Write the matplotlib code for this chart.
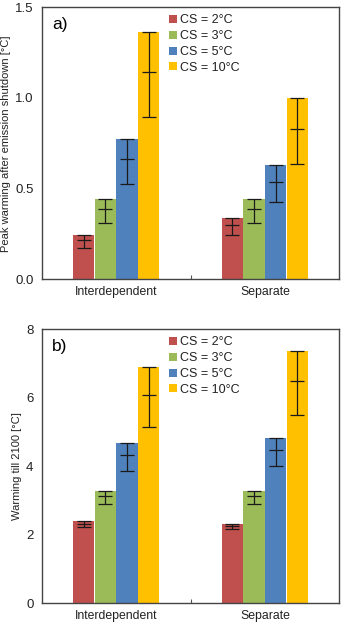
import matplotlib
matplotlib.use('Agg')
import matplotlib.pyplot as plt
import numpy as np

plt.rcParams['font.family'] = ['Liberation Sans', 'DejaVu Sans']

# ------------------ DATA ------------------ #
categories = ['Interdependent', 'Separate']
series = ['CS = 2°C', 'CS = 3°C', 'CS = 5°C', 'CS = 10°C']
colors = ['#C0504D', '#9BBB59', '#4F81BD', '#FFC000']

# panel a: peak warming after emission shutdown
a_top = [[0.243, 0.338], [0.445, 0.445], [0.776, 0.629], [1.366, 1.002]]
a_mean = [[0.214, 0.298], [0.386, 0.386], [0.662, 0.537], [1.141, 0.829]]
a_low = [[0.171, 0.243], [0.313, 0.313], [0.526, 0.425], [0.895, 0.634]]

# panel b: warming till 2100
b_top = [[2.39, 2.33], [3.28, 3.28], [4.69, 4.84], [6.90, 7.38]]
b_mean = [[2.31, 2.26], [3.13, 3.13], [4.33, 4.47], [6.08, 6.50]]
b_low = [[2.22, 2.16], [2.90, 2.90], [3.85, 4.00], [5.15, 5.50]]


def panel(ax, top, mean, low, ylim, yticks, yticklabels, ylabel, tag):
    x = np.array([0.5, 1.5])
    w = 0.142
    for i in range(4):
        xs = x + (i - 1.5) * (w + 0.004)
        t = np.array(top[i])
        m = np.array(mean[i])
        lo = np.array(low[i])
        ax.bar(xs, t, width=w, color=colors[i], label=series[i], zorder=2)
        ax.errorbar(xs, m, yerr=[m - lo, t - m], fmt='none', ecolor='#1a1a1a',
                    elinewidth=0.9, capsize=4.7, capthick=0.9, zorder=3)
        ax.plot(xs, m, linestyle='none', marker='_', markersize=9.5,
                markeredgewidth=0.9, color='#1a1a1a', zorder=3)
    ax.set_xlim(0, 2)
    ax.set_ylim(*ylim)
    ax.set_yticks(yticks)
    ax.set_yticklabels(yticklabels, fontsize=9.5, color='#222222')
    ax.tick_params(axis='y', length=0, pad=6)
    ax.set_xticks([1.0])
    ax.set_xticklabels([''])
    ax.tick_params(axis='x', direction='in', length=3, color='#555555')
    for xc, c in zip(x, categories):
        ax.text(xc, -0.025, c, transform=ax.get_xaxis_transform(),
                ha='center', va='top', fontsize=8.8, color='#222222')
    ax.set_ylabel(ylabel, fontsize=8, color='#222222', labelpad=3)
    for s in ax.spines.values():
        s.set_color('#444444')
        s.set_linewidth(1.0)
    ax.text(0.035, 0.965, tag, transform=ax.transAxes, fontsize=12.5,
            ha='left', va='top')
    leg = ax.legend(loc='upper left', bbox_to_anchor=(0.39, 1.015), frameon=False,
                    fontsize=9, handlelength=0.6, handleheight=0.6,
                    handletextpad=0.25, labelspacing=0.3, borderpad=0.4)
    for txt in leg.get_texts():
        txt.set_color('#222222')


fig = plt.figure(figsize=(3.43, 6.23), dpi=100)
ax1 = fig.add_axes([0.1216, 0.5517, 0.9892 - 0.1216, 0.9883 - 0.5517])
ax2 = fig.add_axes([0.1216, 0.0316, 0.9892 - 0.1216, 0.4714 - 0.0316])

panel(ax1, a_top, a_mean, a_low, (0, 1.5), [0, 0.5, 1.0, 1.5],
      ['0.0', '0.5', '1.0', '1.5'],
      'Peak warming after emission shutdown [°C]', 'a)')
panel(ax2, b_top, b_mean, b_low, (0, 8), [0, 2, 4, 6, 8],
      ['0', '2', '4', '6', '8'], 'Warming till 2100 [°C]', 'b)')

fig.savefig('out.png', dpi=100)
